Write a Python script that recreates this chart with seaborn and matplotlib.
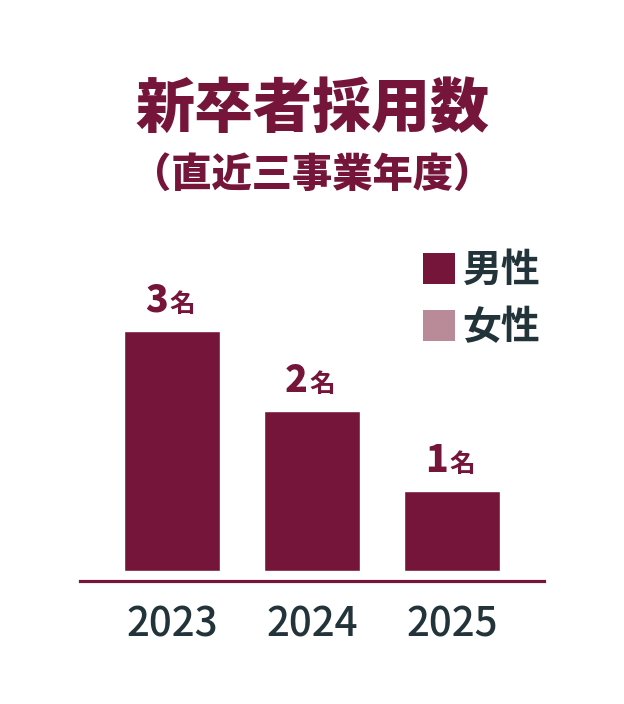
import matplotlib
matplotlib.use("Agg")
import matplotlib.pyplot as plt
from matplotlib.patches import Patch
import seaborn as sns
import pandas as pd

# --------------------------
# Data
# --------------------------
years = ["2023", "2024", "2025"]
male = [3, 2, 1]
female = [0, 0, 0]
title = "新卒者採用数"
subtitle = "（直近三事業年度）"
unit = "名"

DARK_RED = "#76153a"
PINK = "#b98a98"
INK = "#22333a"

df = pd.DataFrame({"year": years, "male": male, "female": female})

sns.set_theme(style="white")
plt.rcParams["font.family"] = ["Noto Sans CJK JP", "DejaVu Sans"]

W, H = 624, 704
fig = plt.figure(figsize=(W / 100, H / 100), dpi=100)
# axes so that categories land at x = 172, 312, 452 px and y=0 at 571 px
ax = fig.add_axes([80 / W, (H - 571) / H, 464 / W, 320 / H])

sns.barplot(data=df, x="year", y="male", color=DARK_RED, width=0.686,
            saturation=1, ax=ax)
ax.set_xlim(-0.657, 2.657)
ax.set_ylim(0, 4)

# value labels
for i, v in enumerate(male):
    ax.annotate(str(v), xy=(i, v), xytext=(-3, 14), textcoords="offset points",
                ha="right", va="baseline", fontsize=27, fontweight="heavy",
                color=DARK_RED)
    ax.annotate(unit, xy=(i, v), xytext=(-2, 14), textcoords="offset points",
                ha="left", va="baseline", fontsize=18.5, fontweight="bold",
                color=DARK_RED)

# axes styling
for s in ["top", "right", "left"]:
    ax.spines[s].set_visible(False)
ax.spines["bottom"].set_position(("outward", 7))
ax.spines["bottom"].set_color(DARK_RED)
ax.spines["bottom"].set_linewidth(2.3)
ax.set_yticks([])
ax.set_xlabel("")
ax.set_ylabel("")
ax.tick_params(axis="x", length=0, pad=17, labelsize=29, labelcolor=INK)
for lab in ax.get_xticklabels():
    lab.set_fontweight("medium")

# legend
handles = [Patch(facecolor=DARK_RED, edgecolor="none", label="男性"),
           Patch(facecolor=PINK, edgecolor="none", label="女性")]
leg = fig.legend(handles=handles, loc="upper left",
                 bbox_to_anchor=(423 / W, 1 - 251 / H), frameon=False,
                 prop={"size": 28, "weight": "bold"}, labelcolor=INK,
                 handlelength=0.82, handleheight=0.82, handletextpad=0.2,
                 labelspacing=0.46, borderpad=0, borderaxespad=0)

# titles
fig.text(312 / W, 1 - 109 / H, title, ha="center", va="center",
         fontsize=42.5, fontweight="heavy", color=DARK_RED)
fig.text(312 / W, 1 - 175 / H, subtitle, ha="center", va="center",
         fontsize=29, fontweight="heavy", color=DARK_RED)

fig.savefig("out.png", dpi=100)
